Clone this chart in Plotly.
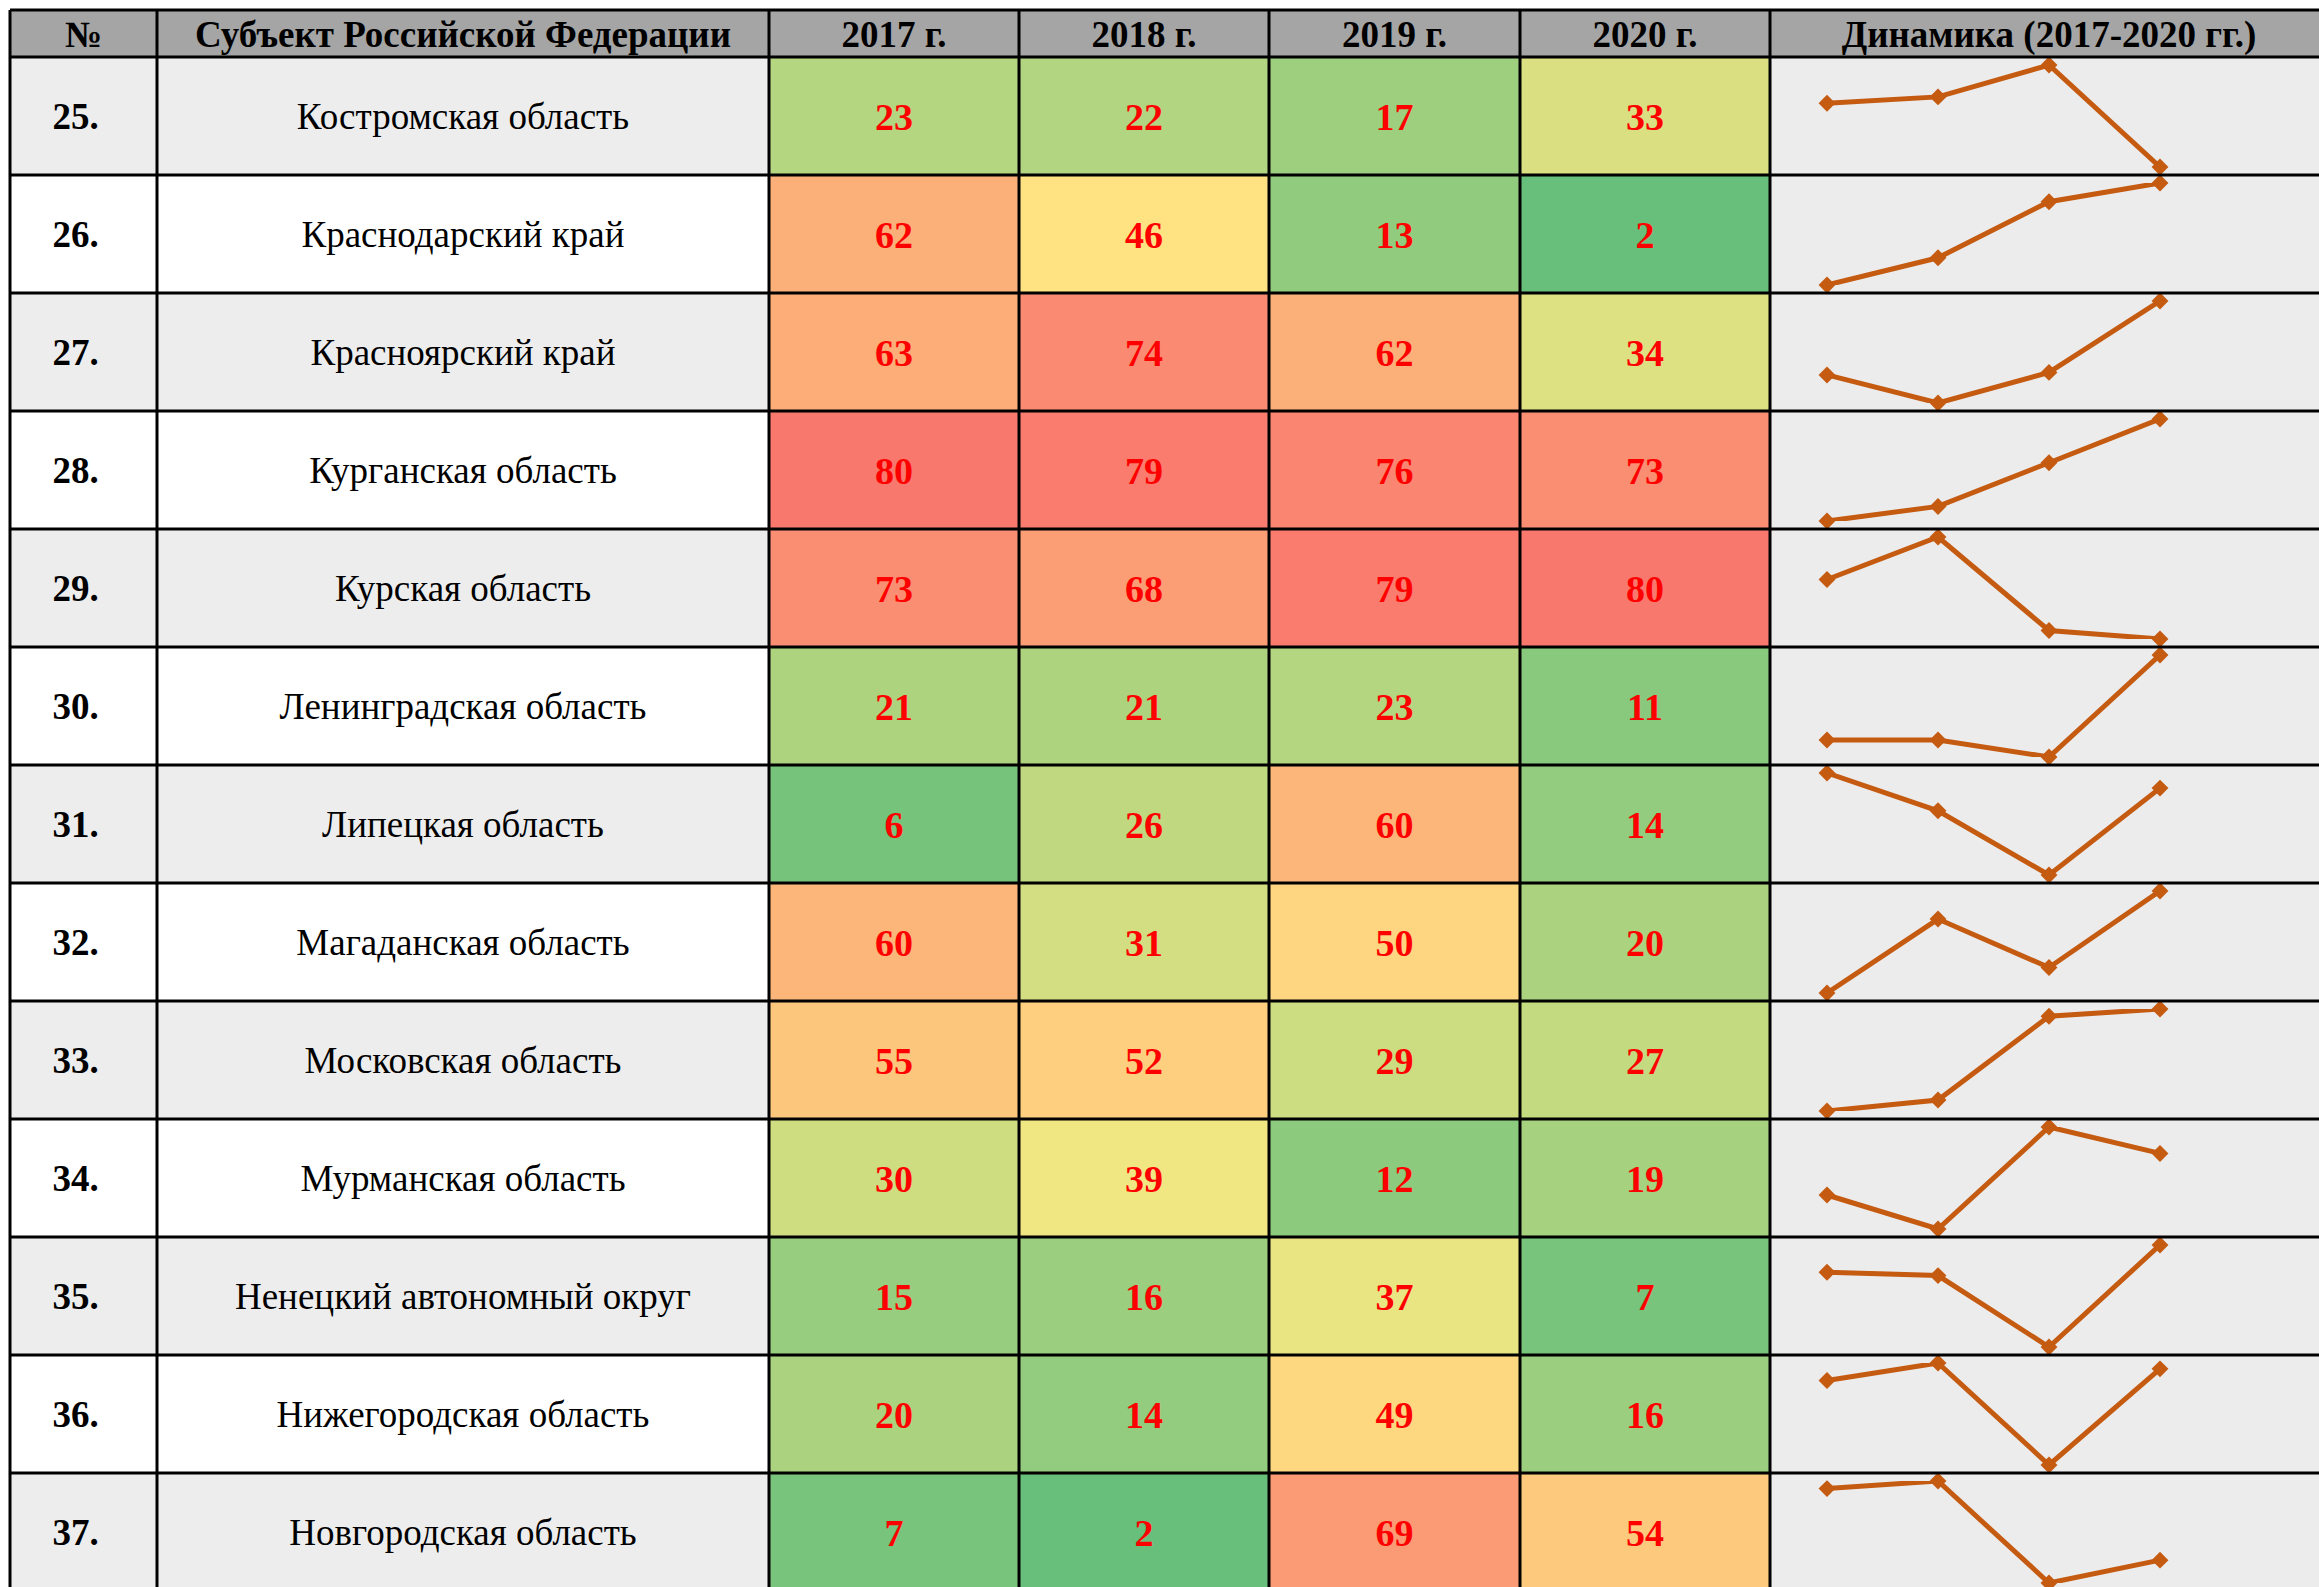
import plotly.graph_objects as go

# ---------------- data ----------------
row_numbers = ["25.", "26.", "27.", "28.", "29.", "30.", "31.", "32.", "33.", "34.", "35.", "36.", "37."]
regions = [
    "Костромская область",
    "Краснодарский край",
    "Красноярский край",
    "Курганская область",
    "Курская область",
    "Ленинградская область",
    "Липецкая область",
    "Магаданская область",
    "Московская область",
    "Мурманская область",
    "Ненецкий автономный округ",
    "Нижегородская область",
    "Новгородская область",
]
years = [2017, 2018, 2019, 2020]
year_labels = ["2017 г.", "2018 г.", "2019 г.", "2020 г."]
v2017 = [23, 62, 63, 80, 73, 21, 6, 60, 55, 30, 15, 20, 7]
v2018 = [22, 46, 74, 79, 68, 21, 26, 31, 52, 39, 16, 14, 2]
v2019 = [17, 13, 62, 76, 79, 23, 60, 50, 29, 12, 37, 49, 69]
v2020 = [33, 2, 34, 73, 80, 11, 14, 20, 27, 19, 7, 16, 54]
header_labels = ["№", "Субъект Российской Федерации"] + year_labels + ["Динамика (2017-2020 гг.)"]
RANK_MIN, RANK_MAX = 1, 85

# ---------------- geometry / style ----------------
W, H = 2319, 1587
COL_EDGES = [10, 157, 769, 1019, 1269, 1520, 1770, 2328]
HEADER_TOP, HEADER_BOTTOM = 10, 57
ROW_H = 118
PAD = 8
TEXT_SHIFT = 4
FONT = "Liberation Serif"
GRAY = "#EDEDED"
SPARK = "#C55A11"

n = len(regions)
row_edges = [HEADER_BOTTOM + i * ROW_H for i in range(n + 1)]
row_centers = [(row_edges[i] + row_edges[i + 1]) / 2 + TEXT_SHIFT for i in range(n)]
col_centers = [(COL_EDGES[j] + COL_EDGES[j + 1]) / 2 for j in range(len(COL_EDGES) - 1)]

fig = go.Figure()

# backgrounds of № / name columns (alternating)
parity = [[i % 2, i % 2] for i in range(n)]
fig.add_trace(go.Heatmap(
    z=parity, x=COL_EDGES[0:3], y=row_edges,
    colorscale=[[0, GRAY], [1, "#FFFFFF"]], zmin=0, zmax=1,
    showscale=False, hoverinfo="skip"))

# dynamics column background
fig.add_trace(go.Heatmap(
    z=[[0] for _ in range(n)], x=COL_EDGES[6:8], y=row_edges,
    colorscale=[[0, "#ECECEC"], [1, "#ECECEC"]], zmin=0, zmax=1,
    showscale=False, hoverinfo="skip"))

# value cells
z = [[v2017[i], v2018[i], v2019[i], v2020[i]] for i in range(n)]
fig.add_trace(go.Heatmap(
    z=z, x=COL_EDGES[2:7], y=row_edges,
    colorscale=[[0, "#63BE7B"], [0.5, "#FFEB84"], [1, "#F8696B"]],
    zmin=RANK_MIN, zmax=RANK_MAX, showscale=False, hoverinfo="skip"))

# value texts
for j, vals in enumerate([v2017, v2018, v2019, v2020]):
    fig.add_trace(go.Scatter(
        x=[col_centers[2 + j]] * n, y=row_centers,
        text=[f"<b>{v}</b>" for v in vals], mode="text",
        textposition="middle center",
        textfont=dict(family=FONT, size=38, color="#FF0000"),
        hoverinfo="skip", showlegend=False))

# row numbers
fig.add_trace(go.Scatter(
    x=[col_centers[0] - 8] * n, y=row_centers,
    text=[f"<b>{t}</b>" for t in row_numbers], mode="text",
    textfont=dict(family=FONT, size=37, color="#000000"),
    hoverinfo="skip", showlegend=False))

# region names
fig.add_trace(go.Scatter(
    x=[col_centers[1]] * n, y=row_centers,
    text=regions, mode="text",
    textfont=dict(family=FONT, size=37, color="#000000"),
    hoverinfo="skip", showlegend=False))

# header texts
fig.add_trace(go.Scatter(
    x=col_centers, y=[(HEADER_TOP + HEADER_BOTTOM) / 2 + TEXT_SHIFT] * len(col_centers),
    text=[f"<b>{t}</b>" for t in header_labels], mode="text",
    textfont=dict(family=FONT, size=37, color="#000000"),
    hoverinfo="skip", showlegend=False))

# sparklines, one small axis per row
PX_PER_YEAR = 111
FIRST_POINT_PX = 1827
x2_range = [years[0] - (FIRST_POINT_PX - COL_EDGES[6]) / PX_PER_YEAR,
            years[0] + (W - FIRST_POINT_PX) / PX_PER_YEAR]
layout_axes = {}
for i in range(n):
    vals = [v2017[i], v2018[i], v2019[i], v2020[i]]
    ax = f"y{i + 2}"
    fig.add_trace(go.Scatter(
        x=years, y=vals, xaxis="x2", yaxis=ax, mode="lines+markers",
        line=dict(color=SPARK, width=5),
        marker=dict(symbol="diamond", size=13, color=SPARK),
        cliponaxis=False, hoverinfo="skip", showlegend=False))
    top = row_edges[i] + PAD
    bottom = min(row_edges[i + 1] - PAD, H)
    layout_axes[f"yaxis{i + 2}"] = dict(
        domain=[max(0, 1 - bottom / H), 1 - top / H],
        range=[max(vals), min(vals)], visible=False, anchor="x2", fixedrange=True)

# header background + grid lines
shapes = [dict(type="rect", xref="x", yref="y", x0=COL_EDGES[0], x1=COL_EDGES[-1],
               y0=HEADER_TOP, y1=HEADER_BOTTOM, fillcolor="#A5A5A5", line_width=0, layer="below")]
LW = 3
for yv in [HEADER_TOP] + row_edges:
    shapes.append(dict(type="line", xref="x", yref="y", x0=COL_EDGES[0], x1=COL_EDGES[-1] + 20,
                       y0=yv, y1=yv, line=dict(color="#000000", width=LW), layer="above"))
for xv in COL_EDGES[:-1]:
    shapes.append(dict(type="line", xref="x", yref="y", x0=xv, x1=xv,
                       y0=HEADER_TOP, y1=row_edges[-1], line=dict(color="#000000", width=LW), layer="above"))

fig.update_layout(
    width=W, height=H, margin=dict(l=0, r=0, t=0, b=0),
    paper_bgcolor="#FFFFFF", plot_bgcolor="rgba(0,0,0,0)",
    showlegend=False, shapes=shapes,
    xaxis=dict(range=[0, W], visible=False, domain=[0, 1], fixedrange=True),
    yaxis=dict(range=[H, 0], visible=False, domain=[0, 1], fixedrange=True),
    xaxis2=dict(range=x2_range, domain=[COL_EDGES[6] / W, 1], visible=False,
                anchor="y2", fixedrange=True),
    **layout_axes,
)

fig.write_html("out.html", config={"displayModeBar": False},
               post_script="document.body.style.margin='0';document.body.style.overflow='hidden';")
